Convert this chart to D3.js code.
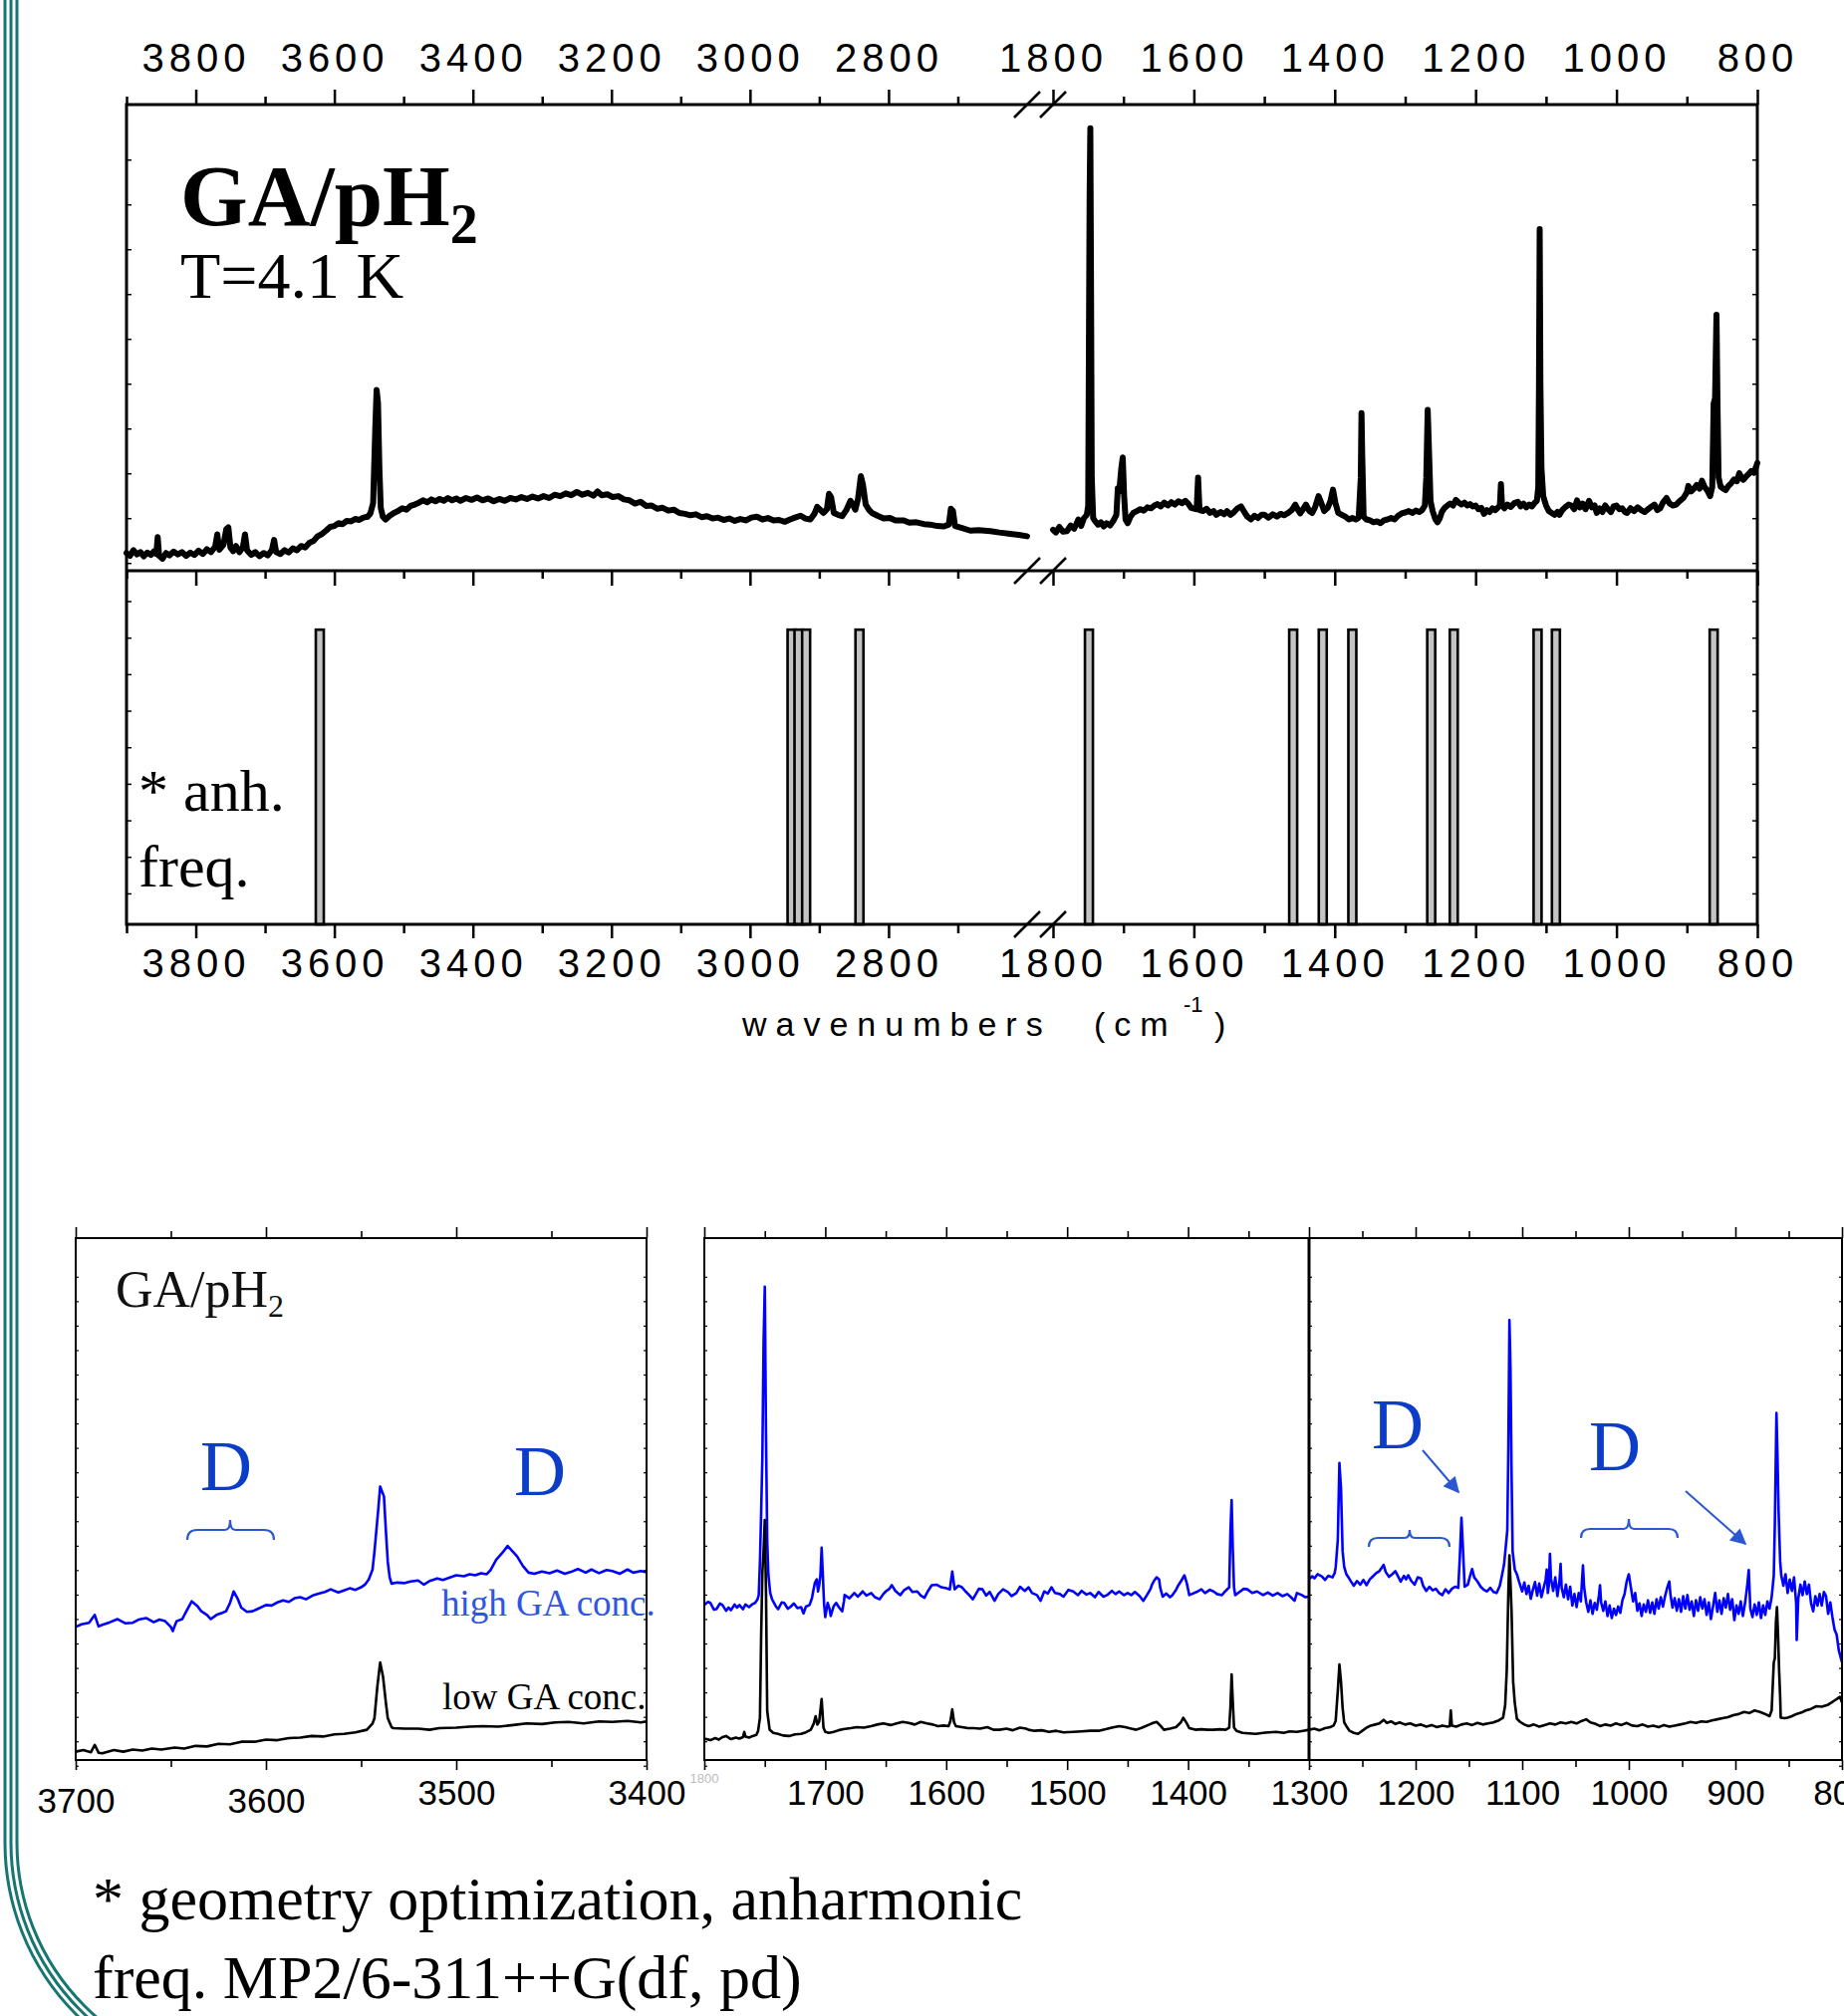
<!DOCTYPE html>
<html>
<head>
<meta charset="utf-8">
<script src="https://cdn.jsdelivr.net/npm/d3@7"></script>
<style>
  html, body { margin: 0; padding: 0; background: #fff; }
  svg { display: block; }
</style>
</head>
<body>
<svg id="slide" width="1851" height="2024"></svg>
<script>
// ---------- IR spectrum of GA in para-H2 (upper figure, broken axis) ----------
const topMajorLeft  = [3800, 3600, 3400, 3200, 3000, 2800];
const topMinorLeft  = [3900, 3700, 3500, 3300, 3100, 2900, 2700];
const topMajorRight = [1800, 1600, 1400, 1200, 1000, 800];
const topMinorRight = [1700, 1500, 1300, 1100, 900];

// measured absorbance, 3900-2600 cm-1 (arbitrary units, 0-100 panel height)
const measuredHigh = [
  [3900,3.8],[3895,3.2],[3890,4.4],[3885,3.5],[3880,4.0],[3875,3.1],[3870,3.9],[3865,3.4],[3860,4.2],[3857,3.6],
  [3855,7.2],[3853,3.2],[3848,2.6],[3843,3.8],[3838,3.3],[3832,4.1],[3826,3.5],[3820,4.0],[3814,3.2],[3808,3.9],
  [3802,3.4],[3796,4.3],[3790,3.6],[3784,4.6],[3778,4.0],[3772,5.2],[3769,7.8],[3766,4.5],[3760,5.6],[3756,8.9],
  [3753,9.3],[3750,5.0],[3746,4.2],[3742,5.3],[3737,4.0],[3732,5.1],[3729,7.8],[3726,4.4],[3720,3.4],[3714,4.0],
  [3708,3.1],[3702,3.8],[3696,3.3],[3690,4.5],[3687,6.6],[3684,4.0],[3678,3.6],[3672,4.4],[3666,3.9],[3660,4.8],
  [3654,4.4],[3648,5.3],[3642,5.0],[3636,6.0],[3630,6.4],[3624,7.4],[3618,7.9],[3612,8.6],[3606,9.4],[3600,9.6],
  [3594,10.2],[3588,10.0],[3582,10.7],[3576,10.6],[3570,11.1],[3564,10.9],[3558,11.4],[3552,11.6],[3548,12.3],[3544,14.5],
  [3541,30],[3539,38.8],[3537,36],[3535,22],[3533,13.5],[3530,11.6],[3526,11.0],[3520,11.8],[3514,12.4],[3508,12.8],
  [3502,13.4],[3496,13.1],[3490,13.9],[3484,14.2],[3478,14.6],[3472,15.1],[3466,14.7],[3460,15.3],[3454,14.9],[3448,15.4],
  [3442,15.0],[3436,15.6],[3430,15.1],[3424,15.5],[3418,15.0],[3410,15.6],[3402,15.2],[3394,15.7],[3386,15.1],[3378,15.5],
  [3370,14.9],[3362,15.4],[3354,15.0],[3346,15.6],[3338,15.3],[3330,15.8],[3322,15.4],[3314,15.9],[3306,15.5],[3298,16.0],
  [3290,15.6],[3282,16.3],[3274,16.0],[3266,16.6],[3258,16.2],[3250,16.9],[3242,16.3],[3234,16.7],[3226,16.1],[3220,17.0],
  [3214,16.2],[3206,16.4],[3198,15.8],[3190,16.0],[3182,15.3],[3174,15.1],[3166,14.4],[3158,14.8],[3150,13.9],[3142,14.0],
  [3134,13.3],[3126,13.5],[3118,12.9],[3110,13.1],[3102,12.4],[3094,12.2],[3086,11.9],[3078,12.1],[3070,11.5],[3062,11.7],
  [3054,11.2],[3046,11.4],[3038,10.9],[3030,11.2],[3022,10.7],[3014,11.1],[3006,10.8],[2998,11.4],[2990,11.6],[2982,11.0],
  [2974,11.3],[2966,10.8],[2958,10.9],[2950,10.5],[2942,11.0],[2935,11.4],[2927,11.8],[2920,11.2],[2913,11.0],[2907,12.2],
  [2903,13.7],[2898,13.0],[2894,12.4],[2889,13.2],[2886,16.5],[2883,15.8],[2879,12.4],[2873,12.0],[2867,11.7],[2861,13.0],
  [2855,15.0],[2851,14.0],[2848,13.1],[2844,15.5],[2840,20.3],[2837,18.5],[2833,14.2],[2828,13.0],[2824,12.4],[2816,11.8],
  [2807,11.2],[2798,11.3],[2790,10.8],[2778,10.8],[2770,10.3],[2760,10.4],[2749,10.0],[2740,9.9],[2730,9.6],[2720,9.5],
  [2713,9.9],[2710,13.3],[2707,12.8],[2704,9.6],[2695,9.2],[2682,8.6],[2670,8.7],[2653,8.5],[2640,8.2],[2624,7.9],
  [2612,7.7],[2600,7.4]
];

// measured absorbance, 1800-800 cm-1
const measuredLow = [
  [1800,8.8],[1796,8.2],[1791,9.4],[1786,8.4],[1780,8.5],[1775,9.7],[1770,9.0],[1764,11.0],[1760,9.6],[1756,11.3],
  [1752,12.0],[1750,14.0],[1749,48],[1748,80],[1747,94.9],[1746,60],[1745,20],[1743,11.3],[1740,10.6],[1736,9.9],
  [1732,10.4],[1728,9.5],[1724,10.2],[1719,9.7],[1714,10.8],[1710,12.0],[1708,17.7],[1706,17.0],[1703,22],[1701,24.3],
  [1699,16],[1697,11.0],[1694,10.2],[1690,11.6],[1686,12.4],[1681,12.8],[1676,13.2],[1671,12.9],[1666,13.6],[1661,13.4],
  [1656,14.0],[1652,14.3],[1647,13.8],[1642,14.6],[1637,14.0],[1632,14.7],[1627,14.2],[1622,14.9],[1617,14.5],[1612,15.0],
  [1608,14.4],[1604,13.5],[1596,13.2],[1594,20.0],[1592,13.0],[1587,12.8],[1582,13.3],[1577,12.4],[1572,12.8],[1568,12.0],
  [1562,12.6],[1557,12.1],[1553,12.8],[1548,12.0],[1543,12.6],[1538,13.4],[1533,13.8],[1528,12.5],[1524,11.6],[1519,11.0],
  [1514,11.8],[1509,11.3],[1504,12.0],[1500,12.0],[1494,11.4],[1488,12.1],[1482,11.6],[1477,12.2],[1472,11.9],[1466,12.4],
  [1461,13.0],[1456,14.2],[1452,13.0],[1449,12.3],[1445,13.2],[1441,14.2],[1436,12.8],[1432,12.4],[1428,13.6],[1423,16.0],
  [1419,14.5],[1415,12.8],[1410,13.5],[1406,15.0],[1402.5,17.4],[1399,14.5],[1395,12.4],[1390,12.0],[1385,11.6],[1380,11.0],
  [1375,11.3],[1370,11.0],[1366,11.4],[1363,20],[1362,33.8],[1361,25],[1359,11.6],[1355,11.0],[1350,10.8],[1345,10.4],
  [1340,10.6],[1335,10.2],[1330,10.8],[1325,11.0],[1320,11.3],[1315,11.0],[1310,11.8],[1305,12.3],[1300,12.5],[1295,12.8],
  [1290,12.4],[1285,12.9],[1280,12.6],[1276,13.0],[1272,14.0],[1270,20],[1268,34.5],[1266,25],[1264,15],[1261,12.8],
  [1257,11.0],[1254,10.4],[1251,11.2],[1248,12.6],[1244,13.5],[1240,14.0],[1236,14.4],[1232,14.0],[1228,15.2],[1224,14.6],
  [1220,14.2],[1216,14.6],[1212,14.0],[1208,14.3],[1204,13.8],[1200,14.0],[1196,13.2],[1192,13.5],[1188,12.2],[1184,13.0],
  [1180,12.6],[1176,13.4],[1172,13.0],[1168,13.6],[1165.5,14.0],[1164,18.6],[1162.5,14.0],[1159,13.4],[1155,14.2],[1150,13.7],
  [1145,14.5],[1140,14.8],[1136,13.8],[1132,14.4],[1128,13.6],[1124,14.2],[1120,13.8],[1116,14.6],[1113,15.0],[1111,18],
  [1110,40],[1109,73.3],[1108,40],[1106.5,22],[1104,16],[1100,14.0],[1096,12.8],[1092,12.4],[1088,12.0],[1084,12.6],
  [1081,12.0],[1077,13.0],[1073,13.6],[1068,14.2],[1064,14.0],[1060,13.2],[1056,15.1],[1052,13.6],[1048,14.4],[1044,13.2],
  [1039,15.0],[1035,13.6],[1031,14.0],[1028,12.4],[1024,13.4],[1020,12.6],[1016,14.0],[1012,13.2],[1008,12.6],[1004,13.8],
  [1000,14.0],[996,13.2],[992,13.4],[988,12.6],[985,12.4],[980,13.4],[975,12.8],[970,13.6],[965,13.0],[960,12.6],
  [955,13.2],[950,13.8],[946,14.2],[942,13.0],[938,13.4],[934,14.6],[929,15.6],[925,14.5],[920,14.0],[915,14.2],
  [910,15.0],[905,15.6],[900,16.8],[898,18.2],[894,17.0],[890,17.6],[886,18.4],[882,17.6],[878.6,19.3],[875,18.0],
  [871,17.2],[867,16.0],[864,18],[862,35.9],[860,37],[859,46],[858,54.9],[856.5,35],[855,20],[852,18.0],
  [848,17.6],[845,17.3],[841,18.2],[837,18.8],[833,19.6],[829,19.2],[825.6,20.9],[822,19.8],[820,19.5],[816,20.2],
  [812,20.8],[808.5,21.4],[805,21.0],[802,22.2],[800,23.1]
];

// calculated anharmonic frequencies (cm-1); sticks are drawn clipped at equal height
const calcHigh = [3621, 2940, 2930, 2919, 2842];
const calcLow  = [1749, 1459, 1417, 1375, 1263, 1231, 1112, 1086, 862];
const calcIntensity = 1;

// ---------- concentration comparison (lower figure, three windows) ----------
const ohMajor = [3700, 3600, 3500, 3400];
const ohMinor = [3650, 3550, 3450];
const midMajor = [1700, 1600, 1500, 1400, 1300];
const midMinor = [1750, 1650, 1550, 1450, 1350];
const fpMajor = [1200, 1100, 1000, 900, 800];
const fpMinor = [1250, 1150, 1050, 950, 850];

const highOH = [
  [3700,25.5],[3697,26.0],[3693,26.3],[3690,27.8],[3688,25.6],[3686,25.9],[3682,26.4],[3678,27.0],[3674,26.2],[3670,26.3],
  [3667,26.9],[3663,27.2],[3659,26.4],[3656,26.9],[3653,26.6],[3650,25.5],[3649,24.7],[3647,26.6],[3644,27.0],[3642,28.4],
  [3639,30.4],[3636,29.5],[3634,28.5],[3631,27.8],[3629,27.0],[3626,27.8],[3623,28.2],[3621,28.5],[3619,30.0],[3617,32.3],
  [3615,31.0],[3613,29.2],[3610,28.4],[3607,28.5],[3604,29.0],[3600,29.7],[3597,29.6],[3594,30.2],[3591,30.6],[3588,30.3],
  [3585,31.0],[3582,31.2],[3579,30.8],[3575,31.6],[3572,31.9],[3569,32.2],[3566,32.7],[3562,32.1],[3559,32.5],[3556,32.9],
  [3553,32.6],[3550,33.1],[3548,33.6],[3546,34.6],[3544,36.5],[3543,39.9],[3541,48],[3540,52.4],[3538,50.5],[3537,44],
  [3536,38],[3535,35.0],[3534,33.8],[3531,34.0],[3527,33.9],[3524,34.2],[3520,34.4],[3517,33.6],[3514,34.3],[3510,34.8],
  [3507,34.5],[3503,35.0],[3500,35.4],[3496,35.2],[3493,35.6],[3490,35.4],[3487,35.8],[3484,35.6],[3482,36.4],[3479,38.4],
  [3476,39.6],[3473,41.0],[3470,39.8],[3468,39.0],[3465,37.2],[3462,35.9],[3459,35.7],[3455,36.1],[3451,35.8],[3447,36.3],
  [3443,35.7],[3440,36.0],[3436,36.6],[3432,35.9],[3429,36.5],[3425,35.8],[3421,36.4],[3418,36.2],[3414,35.7],[3410,36.5],
  [3407,35.9],[3403,36.2],[3400,36.0]
];
const lowOH = [
  [3700,1.6],[3696,1.9],[3692,1.5],[3690,2.9],[3688,1.4],[3686,1.3],[3680,1.9],[3675,1.6],[3670,2.0],[3665,1.8],
  [3660,2.2],[3655,2.0],[3648,2.4],[3643,2.2],[3637,2.7],[3631,2.6],[3625,3.1],[3619,3.0],[3613,3.5],[3606,3.5],
  [3600,3.9],[3594,3.8],[3588,4.2],[3582,4.3],[3576,4.6],[3570,4.5],[3564,4.9],[3559,5.0],[3553,5.3],[3547,5.8],
  [3544,7.0],[3543,8.0],[3541.5,14],[3540,18.7],[3538.5,16],[3537,11],[3536,8.0],[3534,6.3],[3533,6.1],[3527,6.0],
  [3520,6.0],[3514,5.8],[3509,6.1],[3500,6.2],[3493,6.4],[3486,6.5],[3478,6.4],[3470,6.7],[3463,7.0],[3455,6.9],
  [3448,7.2],[3441,7.3],[3433,7.0],[3425,7.4],[3418,7.3],[3410,7.5],[3403,7.2],[3400,7.4]
];

const highMid = [
  [1800,29.7],[1797,30.3],[1795,30.1],[1792,28.8],[1790,28.9],[1787,30.0],[1785,29.7],[1782,28.6],[1780,29.2],[1778,28.7],
  [1775,29.8],[1773,29.2],[1771,29.7],[1768,28.9],[1766,29.8],[1763,29.3],[1760,29.9],[1758,30.1],[1756,30.8],[1755,31.6],
  [1754,38],[1753,47.5],[1752,58.1],[1751,80],[1750,90.7],[1749,62.7],[1748,42],[1747,35.4],[1745.5,32.0],[1744,30.8],
  [1741,29.5],[1739,28.9],[1736,30.2],[1734,30.1],[1731,29.0],[1729,29.3],[1726,30.0],[1723,29.1],[1720,29.3],[1718,28.1],
  [1716,29.4],[1713,29.7],[1711,31.0],[1710,32.3],[1708.5,34.0],[1707,34.6],[1706,32.3],[1705,33.5],[1704,35.4],[1703,40.7],
  [1702,35.4],[1701,30.0],[1700,27.4],[1698,30.1],[1696.5,29.0],[1695.5,27.6],[1693,29.5],[1691,30.1],[1688.5,29.2],[1686,28.5],
  [1684.5,30.5],[1684,31.6],[1680,31.0],[1676,32.0],[1673,31.3],[1669,32.3],[1666,31.5],[1662,32.0],[1659,31.2],[1655,30.8],
  [1652,31.8],[1650,32.3],[1647,32.8],[1645,33.5],[1642,32.4],[1638,31.6],[1635,32.5],[1631,33.1],[1628,32.2],[1624,32.3],
  [1621,31.5],[1618,31.1],[1615,32.4],[1612,33.5],[1608,33.6],[1604,33.1],[1600,32.9],[1597,32.7],[1595,36.1],[1593,32.7],
  [1590,33.4],[1587,33.1],[1584,32.3],[1581,31.6],[1578,30.8],[1575,32.0],[1573,32.8],[1570,32.7],[1567,31.5],[1564,32.2],
  [1560,30.5],[1557,31.8],[1553,32.7],[1549,32.2],[1546,31.4],[1542,32.0],[1539,33.2],[1535,32.4],[1532,33.1],[1529,32.0],
  [1525,31.6],[1522,30.5],[1519,32.3],[1516,31.9],[1513,33.1],[1510,32.0],[1506,31.8],[1503,31.3],[1499,32.6],[1495,32.3],
  [1491,31.6],[1488,32.4],[1484,31.7],[1481,32.0],[1477,31.2],[1474,32.2],[1470,31.3],[1467,31.6],[1463,32.4],[1460,31.8],
  [1457,32.3],[1453,31.6],[1450,32.0],[1447,31.6],[1444,32.2],[1440,31.4],[1437,30.5],[1434,31.6],[1431,32.8],[1430,33.5],
  [1428,34.4],[1426,35.0],[1424,34.6],[1423,33.0],[1421,31.3],[1418,31.9],[1415,31.2],[1413,31.6],[1410,32.6],[1408,33.5],
  [1405.5,34.4],[1403,35.4],[1401,33.8],[1399,31.6],[1396,31.9],[1393,32.2],[1389,32.7],[1386,32.0],[1382,32.6],[1379,32.3],
  [1376,31.8],[1372,31.6],[1369,32.4],[1366,33.1],[1365,43.7],[1364,49.8],[1363,40.0],[1362,33.0],[1361,31.6],[1358,32.1],
  [1354,32.8],[1351,32.7],[1347,32.0],[1343,32.3],[1338,31.6],[1334,32.1],[1330,31.5],[1326,32.0],[1322,31.4],[1318,31.8],
  [1315,31.2],[1312,30.5],[1310,32.0],[1306,31.6],[1303,31.2],[1300,31.3]
];
const lowMid = [
  [1800,4.1],[1795,3.8],[1791,4.2],[1788,3.9],[1785,4.4],[1782,4.6],[1778,4.0],[1774,4.3],[1771,4.1],[1768,4.4],
  [1767,5.4],[1766,4.5],[1763,4.3],[1760,4.6],[1757,4.8],[1755.5,5.6],[1754,8.1],[1753,24.0],[1752,36],[1751,40.0],
  [1750,46.0],[1749,32.3],[1748,9.4],[1746,5.8],[1743,5.2],[1739,5.0],[1735,4.7],[1730,4.6],[1725,4.9],[1720,5.0],
  [1716,5.3],[1712,5.8],[1709.5,7.0],[1708,8.4],[1706.5,6.8],[1705,7.4],[1703,11.7],[1701.5,6.2],[1700,5.4],[1697,5.2],
  [1693,5.4],[1689,5.7],[1685,5.9],[1679,6.1],[1674,6.3],[1668,6.2],[1662,6.5],[1657,6.8],[1652,7.0],[1646,6.7],
  [1641,7.0],[1636,7.3],[1631,7.1],[1626,6.8],[1621,7.3],[1616,7.0],[1611,6.8],[1607,6.5],[1602,6.6],[1598,6.5],
  [1596.5,7.5],[1595,9.7],[1593.5,7.2],[1592,6.5],[1587,6.3],[1582,6.1],[1577,6.1],[1572,6.0],[1566,6.3],[1561,5.8],
  [1556,5.8],[1550,6.0],[1545,5.7],[1539,6.2],[1534,6.0],[1532,5.8],[1527,5.6],[1521,5.7],[1515,5.4],[1509,5.6],
  [1503,5.3],[1495,5.4],[1488,5.5],[1481,5.6],[1474,5.6],[1468,5.9],[1463,6.2],[1457,6.5],[1452,6.3],[1447,6.0],
  [1443,5.8],[1438,6.2],[1432,6.8],[1429,7.1],[1426,7.3],[1423,6.6],[1420,5.8],[1415,6.0],[1410,6.3],[1406,7.2],
  [1404,8.1],[1401,7.0],[1399,6.1],[1394,5.8],[1389,5.9],[1384,5.8],[1379,5.8],[1374,5.9],[1369,5.8],[1366,6.2],
  [1365,10],[1364,16.4],[1363,11],[1362,6.2],[1360,5.6],[1355,5.2],[1350,5.1],[1344,5.0],[1338,5.2],[1333,5.3],
  [1327,5.4],[1321,5.2],[1316,5.5],[1310,5.4],[1305,5.6],[1300,5.8]
];

const highFP = [
  [1300,34.6],[1297,35.2],[1295,34.8],[1292,35.6],[1288,35.2],[1285,34.5],[1282,35.3],[1278,35.0],[1276,35.8],[1275,36.9],
  [1273,42.2],[1271.5,56.9],[1270,52],[1268.5,40],[1267,37.0],[1265,35.6],[1263,35.0],[1260,34.0],[1258,33.4],[1255,34.3],
  [1252,33.6],[1249,34.5],[1246,33.5],[1243,34.6],[1240,35.2],[1237,35.8],[1234,36.2],[1232,36.8],[1230,37.4],[1228,36.0],
  [1225,35.1],[1222,35.6],[1219,36.2],[1216,35.0],[1214,34.2],[1211,35.3],[1209,34.6],[1207,35.4],[1204,34.3],[1201,33.6],
  [1198,35.0],[1195,34.8],[1193,33.4],[1190,32.4],[1187,33.2],[1184,32.5],[1181,32.8],[1178,32.0],[1175,31.6],[1172,32.7],
  [1169,32.0],[1166,32.8],[1163,33.2],[1160,33.0],[1158.5,39],[1157,46.4],[1155.5,40],[1154,33.2],[1151,33.6],[1149,35.2],
  [1147,36.6],[1145,35.0],[1142,34.2],[1139,33.2],[1136,32.6],[1133,32.3],[1130,33.0],[1127,32.2],[1124,32.0],[1121,33.4],
  [1119,35.4],[1117,37.5],[1115.5,40.7],[1114,44],[1113,60],[1112,84.3],[1111,75],[1110,55],[1109,40.0],[1107,36.5],
  [1105,35.6],[1103,34.2],[1100,32.3],[1098,34.0],[1096,31.8],[1094,33.4],[1092,30.9],[1090,32.6],[1088,34.1],[1086,31.5],
  [1084,33.8],[1082,31.2],[1080,32.9],[1078,34.6],[1077,36.5],[1076,32.0],[1075,33.5],[1074,39.5],[1073,34.8],[1071,32.4],
  [1069,35.0],[1067,31.4],[1065,34.3],[1064,37.6],[1063,33.0],[1061,31.2],[1059,33.6],[1057,30.8],[1055,33.2],[1053,29.6],
  [1051,31.8],[1049,29.3],[1047,32.0],[1045,30.4],[1044,34.0],[1043,37.3],[1042,33.2],[1040,30.2],[1038,28.4],[1036,30.6],
  [1034,28.0],[1032,30.1],[1030,28.8],[1028,31.6],[1027,33.5],[1026,30.2],[1024,28.6],[1022,30.4],[1020,27.6],[1018,29.6],
  [1016,27.2],[1014,29.0],[1012,27.8],[1010,29.4],[1008,28.2],[1006,30.6],[1004,31.8],[1002,34.2],[1000,35.6],[998,33.0],
  [996,30.4],[994,32.0],[992,28.6],[990,30.0],[988,27.6],[986,29.8],[984,28.4],[982,30.6],[980,28.2],[978,30.2],
  [976,28.0],[974,30.8],[972,29.0],[970,31.2],[968,29.4],[966,31.4],[964,33.0],[962,34.2],[961,31.8],[959,29.2],
  [957,31.0],[955,28.6],[953,30.8],[951,28.4],[949,31.4],[947,29.0],[945,31.6],[943,28.8],[941,30.4],[939,27.6],
  [937,30.6],[935,28.6],[933,31.2],[931,29.0],[929,30.8],[927,27.8],[925,30.2],[923,27.0],[921,29.4],[919,32.0],
  [917,28.4],[915,30.6],[913,28.0],[911,31.0],[909,29.2],[907,31.8],[905,28.8],[903,30.8],[901,26.8],[899,29.6],
  [897,28.0],[895,30.4],[893,27.6],[891,30.0],[889,33.2],[887.5,36.4],[886,29.0],[884,27.4],[882,29.8],[880,27.8],
  [878,30.2],[876,27.2],[874,29.6],[872,27.8],[870,30.4],[868,29.0],[866,31.2],[864,35.4],[863,45.2],[861.5,66.5],
  [860.5,58],[859.5,47.7],[858,38],[857,35.4],[855,33.4],[853,35.6],[851,32.0],[849,34.6],[847,32.4],[845,35.0],
  [843,30.0],[842.5,23.0],[841,31.0],[839,33.6],[837,31.6],[835,34.2],[833,31.8],[831,33.6],[829,30.0],[827,28.5],
  [825,31.4],[823,29.6],[821,31.8],[819,29.6],[817,32.2],[815,31.4],[813,28.0],[811,30.2],[809,27.4],[807,25.0],
  [805,24.0],[803,21.0],[801,19.5],[800,18.7]
];
const lowFP = [
  [1300,5.8],[1295,6.0],[1290,5.7],[1285,6.1],[1280,6.3],[1277,6.6],[1275,7.5],[1273,13.3],[1271.5,18.3],[1270,15],
  [1268.5,10],[1267,7.2],[1265,6.5],[1262,5.6],[1258,5.2],[1254,5.0],[1250,5.6],[1246,6.2],[1242,6.6],[1238,6.8],
  [1234,7.0],[1230,7.7],[1227,7.1],[1223,7.4],[1219,6.9],[1215,7.2],[1210,6.8],[1205,7.0],[1200,6.6],[1195,6.8],
  [1190,6.4],[1185,6.7],[1180,6.3],[1175,6.6],[1170,6.4],[1168,6.5],[1167,9.5],[1166,6.6],[1162,6.4],[1157,6.8],
  [1152,7.0],[1147,6.7],[1142,7.1],[1137,6.8],[1132,7.0],[1127,7.2],[1122,7.6],[1118,8.1],[1116,10.5],[1114.5,17.2],
  [1113,32.3],[1112,39.2],[1111,34],[1110,28.5],[1108.5,15],[1107,11.0],[1105,7.9],[1102,7.3],[1098,6.8],[1094,6.5],
  [1089,6.8],[1084,6.4],[1079,6.7],[1074,7.0],[1069,6.8],[1064,7.2],[1059,7.0],[1054,7.3],[1049,7.0],[1044,7.5],
  [1040,7.8],[1036,7.2],[1031,6.9],[1027,6.5],[1022,6.8],[1017,6.6],[1012,7.0],[1007,6.7],[1002,7.1],[997,6.6],
  [992,6.5],[987,6.8],[982,6.4],[977,6.6],[972,6.3],[967,6.7],[962,6.4],[957,6.6],[952,6.8],[947,7.0],
  [942,7.3],[937,7.1],[932,7.4],[927,7.3],[922,7.6],[917,7.8],[912,8.0],[907,8.2],[902,8.6],[897,8.8],
  [892,9.2],[887,9.0],[882,9.5],[877,9.2],[872,8.8],[868,8.4],[866,9.5],[864,18.7],[863,19.5],[862,26.3],
  [861,29.3],[860,24],[859,17.2],[858,12],[857.5,8.1],[854,8.0],[851,8.1],[847,8.4],[843,8.8],[838,9.1],
  [834,9.5],[829,9.8],[824,10.3],[819,10.2],[813,10.6],[810,11.0],[807,11.4],[804,11.8],[802,12.1],[800,11.0]
];

// ---------- drawing ----------
const SANS = '"Liberation Sans", Arial, Helvetica, sans-serif';
const SERIF = '"Liberation Serif", "Times New Roman", Times, serif';
const BLUE_TRACE = '#0000ff';
const BLUE_NOTE = '#0b3dc8';
const BLUE_MARK = '#2a58d0';

const svg = d3.select('#slide');
svg.append('rect').attr('width', 1851).attr('height', 2024).attr('fill', '#fff');

// slide border (triple teal rule with rounded lower corner)
const borderPath = 'M11,-10 V1850 A238,238 0 0 0 249,2088';
[[15, '#177572'], [9, '#ffffff'], [3, '#177572']].forEach(([w, c]) => {
  svg.append('path').attr('d', borderPath).attr('fill', 'none').attr('stroke', c).attr('stroke-width', w);
});

function axisGroup(gen, scale, values, size, x, y, opts = {}) {
  const a = gen(scale).tickValues(values).tickSize(size).tickPadding(opts.pad || 3)
    .tickFormat(opts.labels ? d3.format('d') : () => '');
  const g = svg.append('g').attr('transform', `translate(${x},${y})`).call(a);
  g.select('.domain').remove();
  g.selectAll('line').attr('stroke', '#000').attr('stroke-width', opts.tw || 2);
  g.attr('font-family', opts.font || SANS).attr('font-size', opts.fs || 10);
  g.selectAll('text').attr('fill', '#000');
  if (opts.ls) g.selectAll('text').attr('letter-spacing', opts.ls);
  if (!opts.labels) g.selectAll('text').remove();
  return g;
}

// ===== upper figure =====
const T = { left: 127, right: 1764, top: 105, mid: 573, bottom: 928 };
const xL = d3.scaleLinear([3900, 2600], [T.left, 1031]);
const xR = d3.scaleLinear([1800, 800], [1057, T.right]);
const yExp = d3.scaleLinear([0, 100], [T.mid, T.top]);
const yCalc = d3.scaleLinear([0, 1.2], [T.bottom, T.mid]);

// calculated sticks
const stickW = 8;
[[calcHigh, xL], [calcLow, xR]].forEach(([arr, xs]) => {
  svg.append('g').selectAll('rect').data(arr).join('rect')
    .attr('x', d => xs(d) - stickW / 2)
    .attr('y', yCalc(calcIntensity))
    .attr('width', stickW)
    .attr('height', yCalc(0) - yCalc(calcIntensity))
    .attr('fill', '#c4c4c4').attr('stroke', '#000').attr('stroke-width', 2.6);
});

// frame
svg.append('rect').attr('x', T.left).attr('y', T.top).attr('width', T.right - T.left).attr('height', T.bottom - T.top)
  .attr('fill', 'none').attr('stroke', '#000').attr('stroke-width', 3);
svg.append('line').attr('x1', T.left).attr('x2', T.right).attr('y1', T.mid).attr('y2', T.mid)
  .attr('stroke', '#000').attr('stroke-width', 3);

// measured spectrum
const lineL = d3.line().x(d => xL(d[0])).y(d => yExp(d[1]));
const lineR = d3.line().x(d => xR(d[0])).y(d => yExp(d[1]));
svg.append('path').attr('d', lineL(measuredHigh)).attr('fill', 'none').attr('stroke', '#000')
  .attr('stroke-width', 6).attr('stroke-linejoin', 'round').attr('stroke-linecap', 'round');
svg.append('path').attr('d', lineR(measuredLow)).attr('fill', 'none').attr('stroke', '#000')
  .attr('stroke-width', 6).attr('stroke-linejoin', 'round').attr('stroke-linecap', 'round');

// x axes: top (labels), separator (ticks only), bottom (labels)
const topLab = { labels: true, fs: 40, ls: '5px', pad: 18, tw: 2.5 };
axisGroup(d3.axisTop, xL, topMajorLeft, 15, 0, T.top, topLab);
axisGroup(d3.axisTop, xR, topMajorRight, 15, 0, T.top, topLab);
axisGroup(d3.axisTop, xL, topMinorLeft, 8, 0, T.top, { tw: 2.5 });
axisGroup(d3.axisTop, xR, topMinorRight, 8, 0, T.top, { tw: 2.5 });

axisGroup(d3.axisBottom, xL, topMajorLeft, 15, 0, T.mid, { tw: 2.5 });
axisGroup(d3.axisBottom, xR, topMajorRight, 15, 0, T.mid, { tw: 2.5 });
axisGroup(d3.axisBottom, xL, topMinorLeft, 8, 0, T.mid, { tw: 2.5 });
axisGroup(d3.axisBottom, xR, topMinorRight, 8, 0, T.mid, { tw: 2.5 });

const botLab = { labels: true, fs: 40, ls: '5px', pad: 11, tw: 2.5 };
axisGroup(d3.axisBottom, xL, topMajorLeft, 14, 0, T.bottom, botLab);
axisGroup(d3.axisBottom, xR, topMajorRight, 14, 0, T.bottom, botLab);
axisGroup(d3.axisBottom, xL, topMinorLeft, 9, 0, T.bottom, { tw: 2.5 });
axisGroup(d3.axisBottom, xR, topMinorRight, 9, 0, T.bottom, { tw: 2.5 });

// small inner ticks on the vertical frame lines
const expTicks = d3.range(10).map(k => 88.2 - k * 9.615);
const calcTicks = d3.range(9).map(k => 1.097 - k * 0.124);
axisGroup(d3.axisRight, yExp, expTicks, 5, T.left, 0, { tw: 1.5 });
axisGroup(d3.axisLeft, yExp, expTicks, 5, T.right, 0, { tw: 1.5 });
axisGroup(d3.axisRight, yCalc, calcTicks, 5, T.left, 0, { tw: 1.5 });
axisGroup(d3.axisLeft, yCalc, calcTicks, 5, T.right, 0, { tw: 1.5 });

// axis break marks
[T.top, T.mid, T.bottom].forEach(y => {
  [xL(2600), xR(1800)].forEach(cx => {
    svg.append('line').attr('x1', cx - 13).attr('y1', y + 13).attr('x2', cx + 13).attr('y2', y - 13)
      .attr('stroke', '#000').attr('stroke-width', 2.5);
  });
});

// axis title
const titleG = svg.append('g').attr('font-family', SANS).attr('fill', '#000');
titleG.append('text').attr('x', 745).attr('y', 1040).attr('font-size', 34).attr('letter-spacing', '9px').text('wavenumbers');
titleG.append('text').attr('x', 1098).attr('y', 1040).attr('font-size', 34).attr('letter-spacing', '9px').text('(cm');
titleG.append('text').attr('x', 1188).attr('y', 1016).attr('font-size', 22).text('-1');
titleG.append('text').attr('x', 1219).attr('y', 1040).attr('font-size', 34).text(')');

// panel captions
const cap = svg.append('text').attr('x', 181).attr('y', 226).attr('font-family', SERIF)
  .attr('font-weight', 'bold').attr('font-size', 87).attr('fill', '#000');
cap.append('tspan').text('GA/pH');
cap.append('tspan').attr('font-size', 56).attr('dy', 18).text('2');
svg.append('text').attr('x', 181).attr('y', 299).attr('font-family', SERIF).attr('font-size', 66)
  .attr('fill', '#000').text('T=4.1 K');
svg.append('text').attr('x', 139).attr('y', 814).attr('font-family', SERIF).attr('font-size', 60)
  .attr('fill', '#000').text('* anh.');
svg.append('text').attr('x', 139).attr('y', 890).attr('font-family', SERIF).attr('font-size', 60)
  .attr('fill', '#000').text('freq.');

// ===== lower figure =====
const B = { top: 1243, bottom: 1767 };
const xOH = d3.scaleLinear([3700, 3400], [76, 649]);
const xMid = d3.scaleLinear([1800, 1300], [707, 1314]);
const xFP = d3.scaleLinear([1300, 800], [1314, 1849]);
const yB = d3.scaleLinear([0, 100], [B.bottom, B.top]);

function trace(data, xs, color) {
  svg.append('path').attr('d', d3.line().x(d => xs(d[0])).y(d => yB(d[1]))(data))
    .attr('fill', 'none').attr('stroke', color).attr('stroke-width', 2.6).attr('stroke-linejoin', 'round');
}
trace(highOH, xOH, BLUE_TRACE);
trace(lowOH, xOH, '#000');
trace(highMid, xMid, BLUE_TRACE);
trace(lowMid, xMid, '#000');
trace(highFP, xFP, BLUE_TRACE);
trace(lowFP, xFP, '#000');

// frames
svg.append('rect').attr('x', 76).attr('y', B.top).attr('width', 649 - 76).attr('height', B.bottom - B.top)
  .attr('fill', 'none').attr('stroke', '#000').attr('stroke-width', 2);
svg.append('rect').attr('x', 707).attr('y', B.top).attr('width', 1849 - 707).attr('height', B.bottom - B.top)
  .attr('fill', 'none').attr('stroke', '#000').attr('stroke-width', 2);
svg.append('line').attr('x1', 1314).attr('x2', 1314).attr('y1', B.top).attr('y2', B.bottom)
  .attr('stroke', '#000').attr('stroke-width', 3);

// x axes of the three windows
const smallLab = { labels: true, fs: 35, pad: 10, tw: 1.6 };
[[xOH, ohMajor, ohMinor], [xMid, midMajor, midMinor], [xFP, fpMajor, fpMinor]].forEach(([xs, maj, min]) => {
  axisGroup(d3.axisTop, xs, maj, 11, 0, B.top, { tw: 1.6 });
  axisGroup(d3.axisTop, xs, min, 7, 0, B.top, { tw: 1.6 });
  axisGroup(d3.axisBottom, xs, min, 7, 0, B.bottom, { tw: 1.6 });
});
axisGroup(d3.axisTop, xMid, [1800], 11, 0, B.top, { tw: 1.6 });
const ohAx = axisGroup(d3.axisBottom, xOH, ohMajor, 10, 0, B.bottom, smallLab);
ohAx.selectAll('text').attr('dy', d => d > 3550 ? '0.95em' : '0.71em');
axisGroup(d3.axisBottom, xMid, midMajor, 10, 0, B.bottom, smallLab);
axisGroup(d3.axisBottom, xFP, fpMajor, 10, 0, B.bottom, smallLab);
axisGroup(d3.axisBottom, xMid, [1800], 10, 0, B.bottom, { tw: 1.6 });
svg.append('text').attr('x', xMid(1800)).attr('y', 1790).attr('text-anchor', 'middle')
  .attr('font-family', SANS).attr('font-size', 13).attr('fill', '#bbb').text('1800');

// small inner ticks on the window sides
const sideTicks = d3.range(21).map(k => 92.6 - k * 4.685);
[[76, d3.axisRight], [649, d3.axisLeft], [707, d3.axisRight], [1314, d3.axisRight], [1849, d3.axisLeft]]
  .forEach(([x, gen]) => axisGroup(gen, yB, sideTicks, 3, x, 0, { tw: 1.2 }));

// annotations
svg.append('text').attr('x', 116).attr('y', 1312).attr('font-family', SERIF).attr('font-size', 52)
  .attr('fill', '#111').call(t => {
    t.append('tspan').text('GA/pH');
    t.append('tspan').attr('font-size', 32).attr('dy', 10).text('2');
  });

const dNotes = [[227, 1496], [542, 1501], [1403, 1454], [1621, 1476]];
svg.append('g').selectAll('text').data(dNotes).join('text')
  .attr('x', d => d[0]).attr('y', d => d[1]).attr('text-anchor', 'middle')
  .attr('font-family', SERIF).attr('font-size', 72).attr('fill', BLUE_NOTE).text('D');

svg.append('text').attr('x', 443).attr('y', 1622).attr('font-family', SERIF).attr('font-size', 37)
  .attr('fill', '#2f55e4').text('high GA conc.');
svg.append('text').attr('x', 444).attr('y', 1716).attr('font-family', SERIF).attr('font-size', 37)
  .attr('fill', '#000').text('low GA conc.');

// braces marking dimer bands
function brace(x1, x2, yEnd, yBar, tipX, tipY) {
  const r = (yEnd - yBar);
  const p = `M${x1},${yEnd} Q${x1},${yBar} ${x1 + r},${yBar} L${tipX - 5},${yBar} Q${tipX},${yBar} ${tipX},${tipY}`
    + ` Q${tipX},${yBar} ${tipX + 5},${yBar} L${x2 - r},${yBar} Q${x2},${yBar} ${x2},${yEnd}`;
  svg.append('path').attr('d', p).attr('fill', 'none').attr('stroke', BLUE_MARK).attr('stroke-width', 2.2);
}
brace(188, 275, 1546, 1536, 231, 1526);
brace(1374, 1455, 1553, 1544, 1415, 1536);
brace(1587, 1684, 1544, 1535, 1635, 1525);

// arrows
const defs = svg.append('defs');
defs.append('marker').attr('id', 'head').attr('viewBox', '0 0 10 10').attr('refX', 9).attr('refY', 5)
  .attr('markerWidth', 9).attr('markerHeight', 8).attr('markerUnits', 'strokeWidth').attr('orient', 'auto')
  .append('path').attr('d', 'M0,0 L10,5 L0,10 Z').attr('fill', BLUE_MARK);
[[1428, 1456, 1464, 1498], [1692, 1497, 1752, 1550]].forEach(([a, b, c, d]) => {
  svg.append('line').attr('x1', a).attr('y1', b).attr('x2', c).attr('y2', d)
    .attr('stroke', BLUE_MARK).attr('stroke-width', 2).attr('marker-end', 'url(#head)');
});

// footnote
const foot = svg.append('g').attr('font-family', SERIF).attr('font-size', 62).attr('fill', '#000');
foot.append('text').attr('x', 93).attr('y', 1927).text('* geometry optimization, anharmonic');
foot.append('text').attr('x', 93).attr('y', 2006).text('freq. MP2/6-311++G(df, pd)');
</script>
</body>
</html>
